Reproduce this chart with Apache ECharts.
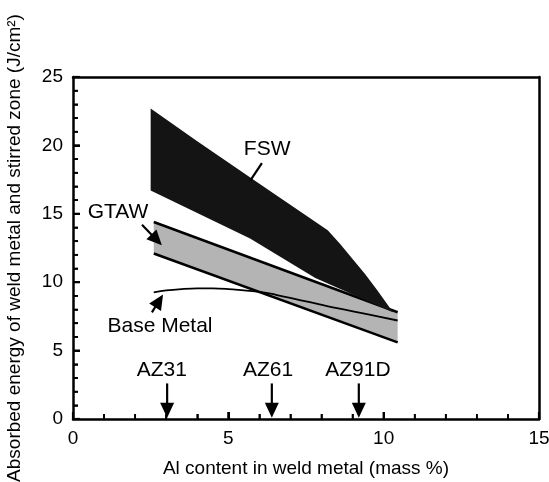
<!DOCTYPE html>
<html><head><meta charset="utf-8">
<script src="https://cdn.jsdelivr.net/npm/echarts@6/dist/echarts.min.js"></script>
<style>html,body{margin:0;padding:0;background:#fff}#c{width:549px;height:482px}</style>
</head><body><div id="c"></div>
<script>
// ---- data ----
const xTicks = [0, 5, 10, 15];
const yTicks = [0, 5, 10, 15, 20, 25];
const xMinorTicks = [1,2,3,4,6,7,8,9,11,12,13,14];
const yMinorTicks = [1,2,3,4,6,7,8,9,11,12,13,14,16,17,18,19,21,22,23,24];
const fswUpper = [[2.5,22.7],[4.0,20.3],[6.0,17.2],[8.2,13.8],[8.6,12.8],[9.0,11.7],[9.4,10.6],[9.8,9.4],[10.3,7.8]];
const fswLower = [[2.5,16.7],[5.7,13.2],[7.8,10.3],[10.3,7.8]];
const gtawUpper = [[2.6,14.4],[10.45,7.8]];
const gtawLower = [[2.6,12.1],[10.45,5.6]];
const baseMetal = [[2.6,9.25],[3.0,9.4],[3.5,9.5],[4.0,9.55],[4.5,9.55],[5.0,9.5],[5.5,9.4],[6.0,9.3],[6.5,9.1],[7.5,8.6],[8.5,8.1],[9.5,7.65],[10.45,7.2]];
const annotText = ['FSW','GTAW','Base Metal','AZ31','AZ61','AZ91D'];
const annotTextPos = [[6.25,19.7],[1.45,15.1],[2.8,6.75],[2.86,3.6],[6.28,3.6],[9.17,3.6]];
const annotFrom = [[6.08,18.7],[2.22,14.2],[2.54,7.8],[3.03,2.6],[6.4,2.6],[9.2,2.6]];
const annotTo = [[5.70,17.4],[2.86,12.7],[2.9,9.1],[3.03,0.1],[6.4,0.1],[9.2,0.1]];
const annotHead = [false,true,true,true,true,true];

const FONT = '"Liberation Sans", Arial, Helvetica, sans-serif';

function band(upper, lower, fill){
  return function(params, api){
    if (params.dataIndex !== 0) return;
    const pts = upper.map(p => api.coord(p)).concat(lower.slice().reverse().map(p => api.coord(p)));
    return {type:'polygon', shape:{points:pts}, style:{fill:fill, stroke:null}};
  };
}

function annot(params, api){
  const i = params.dataIndex;
  const t = api.coord(annotTextPos[i]);
  const a = api.coord(annotFrom[i]);
  const b = api.coord(annotTo[i]);
  const children = [
    {type:'text', style:{text:annotText[i], x:t[0], y:t[1], align:'center', verticalAlign:'middle', font:'21px ' + FONT, fill:'#000'}}
  ];
  let end = b;
  if (annotHead[i]) {
    const dx = b[0]-a[0], dy = b[1]-a[1];
    const L = Math.sqrt(dx*dx+dy*dy);
    const ux = dx/L, uy = dy/L;
    const hl = 15, hw = 7;
    const bx = b[0]-ux*hl, by = b[1]-uy*hl;
    children.push({type:'polygon', shape:{points:[b,[bx-uy*hw, by+ux*hw],[bx+uy*hw, by-ux*hw]]}, style:{fill:'#000'}});
    end = [bx+ux*2, by+uy*2];
  }
  children.push({type:'line', shape:{x1:a[0], y1:a[1], x2:end[0], y2:end[1]}, style:{stroke:'#000', lineWidth:2.2}});
  if (i === 0) {
    // inward tick marks, drawn through the axis scales
    const x0 = xTicks[0], y0 = yTicks[0];
    const addX = (v, len, w) => { const p = api.coord([v, y0]); children.push({type:'line', shape:{x1:p[0], y1:p[1], x2:p[0], y2:p[1]-len}, style:{stroke:'#000', lineWidth:w}}); };
    const addY = (v, len, w) => { const p = api.coord([x0, v]); children.push({type:'line', shape:{x1:p[0], y1:p[1], x2:p[0]+len, y2:p[1]}, style:{stroke:'#000', lineWidth:w}}); };
    xTicks.forEach(v => addX(v, 7, 2.2));
    xMinorTicks.forEach(v => addX(v, 5, 1.8));
    yTicks.forEach(v => addY(v, 7, 2.2));
    yMinorTicks.forEach(v => addY(v, 5, 1.8));
  }
  return {type:'group', children};
}

function mainAxis(extra){
  return Object.assign({
    type:'value', interval:5,
    axisLine:{show:true, onZero:false, lineStyle:{color:'#000', width:2.5}},
    axisTick:{show:true, inside:true, length:7, lineStyle:{color:'#000', width:2}},
    minorTick:{show:true, splitNumber:5, length:5, lineStyle:{color:'#000', width:1.6}},
    splitLine:{show:false}, minorSplitLine:{show:false},
    axisLabel:{color:'#000', fontSize:19, fontFamily:FONT, margin:10},
    nameTextStyle:{color:'#000', fontSize:19, fontFamily:FONT},
    nameLocation:'middle'
  }, extra);
}
function frameAxis(extra){
  return Object.assign({
    type:'value', interval:5,
    axisLine:{show:true, onZero:false, lineStyle:{color:'#000', width:2.5}},
    axisTick:{show:false}, minorTick:{show:false}, axisLabel:{show:false}, splitLine:{show:false}
  }, extra);
}
const chart = echarts.init(document.getElementById('c'));
chart.setOption({
  animation:false,
  grid:{left:73, right:10, top:77, bottom:63, outerBoundsMode:'none', containLabel:false},
  xAxis:[
    mainAxis({min:xTicks[0], max:xTicks[xTicks.length-1], position:'bottom', name:'Al content in weld metal (mass %)', nameGap:40}),
    frameAxis({min:xTicks[0], max:xTicks[xTicks.length-1], position:'top'})
  ],
  yAxis:[
    mainAxis({min:yTicks[0], max:yTicks[yTicks.length-1], position:'left', name:'Absorbed energy of weld metal and stirred zone (J/cm²)', nameGap:49}),
    frameAxis({min:yTicks[0], max:yTicks[yTicks.length-1], position:'right'})
  ],
  series:[
    {type:'custom', name:'GTAW band', renderItem:band(gtawUpper, gtawLower, '#b4b4b4'), data:gtawUpper, z:1, silent:true},
    {type:'line', name:'GTAW upper', data:gtawUpper, symbol:'none', lineStyle:{color:'#000', width:2.5}, z:2},
    {type:'line', name:'GTAW lower', data:gtawLower, symbol:'none', lineStyle:{color:'#000', width:2.5}, z:2},
    {type:'line', name:'Base Metal', data:baseMetal, symbol:'none', smooth:0.4, lineStyle:{color:'#000', width:1.8}, z:3},
    {type:'custom', name:'FSW band', renderItem:band(fswUpper, fswLower, '#141414'), data:fswUpper, z:4, silent:true},
    {type:'custom', name:'annotations', renderItem:annot, data:annotText.map((t,i)=>[annotTextPos[i][0], annotTextPos[i][1]]), z:5, silent:true, clip:false}
  ]
});
</script></body></html>
